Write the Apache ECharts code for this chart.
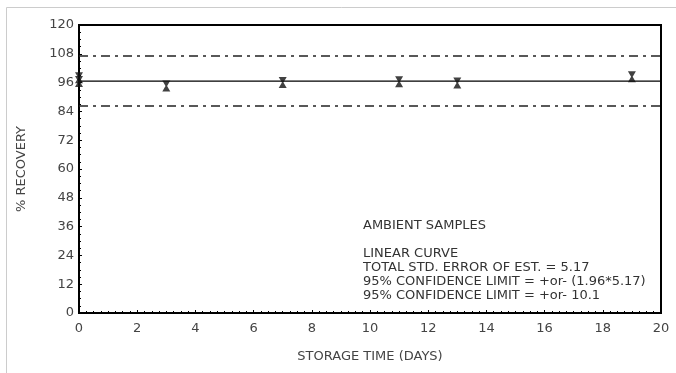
<!DOCTYPE html>
<html><head><meta charset="utf-8">
<script src="https://cdn.jsdelivr.net/npm/echarts@6/dist/echarts.min.js"></script>
<style>html,body{margin:0;padding:0;background:#fff}#c{width:676px;height:373px}</style>
</head><body><div id="c"></div>
<script>
// Data
const days = [0, 0, 3, 7, 11, 13, 19];
const recovery = [98.0, 96.5, 94.6, 96.0, 96.4, 95.8, 98.4];
const fitLine = [[0, 96.6], [20, 96.6]];
const upperLimit = [[0, 107.1], [20, 107.1]];
const lowerLimit = [[0, 86.3], [20, 86.3]];
const yTicks = [0, 12, 24, 36, 48, 60, 72, 84, 96, 108, 120];
const xTicks = [0, 2, 4, 6, 8, 10, 12, 14, 16, 18, 20];
const notes = ['AMBIENT SAMPLES', '', 'LINEAR CURVE', 'TOTAL STD. ERROR OF EST. = 5.17',
  '95% CONFIDENCE LIMIT = +or- (1.96*5.17)', '95% CONFIDENCE LIMIT = +or- 10.1'];

const font = 'DejaVu Sans';
const chart = echarts.init(document.getElementById('c'));
chart.setOption({
  animation: false,
  backgroundColor: '#fff',
  grid: { left: 79, right: 15, top: 25, bottom: 60, show: true, borderColor: '#000', borderWidth: 2 },
  xAxis: {
    type: 'value', min: 0, max: 20, interval: 2,
    name: 'STORAGE TIME (DAYS)', nameLocation: 'middle', nameGap: 37,
    nameTextStyle: { fontFamily: font, fontSize: 13, color: '#444' },
    axisLine: { show: false }, splitLine: { show: false },
    axisTick: { show: true, inside: true, length: 3, lineStyle: { color: '#000' } },
    minorTick: { show: true, splitNumber: 8, length: 2, lineStyle: { color: '#000' } },
    axisLabel: { fontFamily: font, fontSize: 13, color: '#444', margin: 9,
      formatter: v => xTicks.includes(v) ? String(v) : '' }
  },
  yAxis: {
    type: 'value', min: 0, max: 120, interval: 12,
    name: '% RECOVERY', nameLocation: 'middle', nameGap: 51,
    nameTextStyle: { fontFamily: font, fontSize: 13, color: '#444' },
    axisLine: { show: false }, splitLine: { show: false },
    axisTick: { show: true, inside: true, length: 3, lineStyle: { color: '#000' } },
    minorTick: { show: true, splitNumber: 4, length: 2, lineStyle: { color: '#000' } },
    axisLabel: { fontFamily: font, fontSize: 13, color: '#444', margin: 5,
      formatter: v => yTicks.includes(v) ? String(v) : '' }
  },
  graphic: [
    { type: 'rect', shape: { x: 6.5, y: 7.5, width: 700, height: 400 }, style: { fill: 'none', stroke: '#ccc', lineWidth: 1 }, silent: true },
    { type: 'text', left: 363, top: 219, style: { text: notes.join('\n'), font: '13px "DejaVu Sans"', fill: '#333', lineHeight: 14 } }
  ],
  series: [
    { type: 'line', data: fitLine, symbol: 'none', lineStyle: { color: '#000', width: 1.3 }, z: 3 },
    { type: 'line', data: upperLimit, symbol: 'none', lineStyle: { color: '#222', width: 1.5, type: [9, 5, 3, 5] }, z: 3 },
    { type: 'line', data: lowerLimit, symbol: 'none', lineStyle: { color: '#222', width: 1.5, type: [9, 5, 3, 5] }, z: 3 },
    { type: 'scatter', data: days.map((d, i) => [d, recovery[i]]),
      symbol: 'path://M0,0L10,0L6,7L10,14L0,14L4,7Z', symbolSize: [8, 11],
      itemStyle: { color: '#111' }, z: 4 }
  ]
});
</script></body></html>
